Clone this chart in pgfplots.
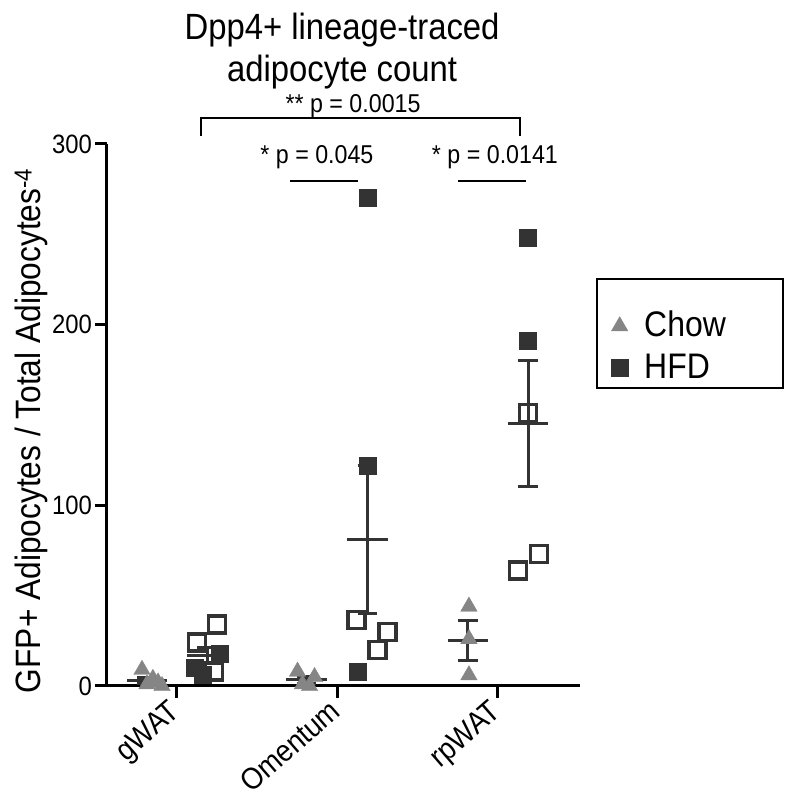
\documentclass[border=0pt]{standalone}
\usepackage{pgfplots}
\pgfplotsset{compat=1.18}
\usepackage{fontspec}
\setmainfont[FakeStretch=0.9]{Liberation Sans}
\definecolor{chow}{HTML}{858585}
\definecolor{hfd}{HTML}{333333}
\begin{document}
\begin{tikzpicture}
\path[use as bounding box] (0pt,0pt) rectangle (787pt,800pt);
\begin{axis}[
  at={(107pt,114pt)}, anchor=south west,
  scale only axis, width=473pt, height=542pt,
  xmin=0.5639, xmax=3.511, ymin=0, ymax=300,
  axis lines=left,
  axis line style={-, line width=3pt, black},
  every outer x axis line/.append style={-},
  every outer y axis line/.append style={-},
  tick align=outside,
  major tick length=12pt,
  tick style={line width=3pt, black},
  xtick={1,2,3}, xticklabels={gWAT,Omentum,rpWAT},
  ytick={0,100,200,300},
  /pgf/number format/assume math mode=true,
  yticklabel style={font=\fontsize{26.5}{26.5}\selectfont, inner sep=3pt},
  xticklabel style={font=\fontsize{30.5}{30.5}\selectfont, rotate=41, anchor=north east, inner sep=1pt, xshift=-6pt, yshift=7pt},
  ylabel={GFP+ Adipocytes / Total Adipocytes\textsuperscript{-4}},
  ylabel style={font=\fontsize{35.2}{35.2}\selectfont, at={(axis description cs:-0.160,0.471)}, anchor=center},
  title={Dpp4+ lineage-traced\\adipocyte count},
  title style={font=\fontsize{36.5}{42}\selectfont, align=center, at={(axis description cs:0.497,1.160)}, anchor=center},
  clip=false,
  unbounded coords=jump,
  legend style={draw=none, fill=none, at={(rel axis cs:1.0655,0.703)}, anchor=north west,
    font=\fontsize{35.5}{35.5}\selectfont, inner sep=0pt, column sep=14pt,
    nodes={text height=26pt, text depth=6pt, inner ysep=5pt}},
  legend cell align=left,
]
% Chow points
\addplot[only marks, mark=triangle*, mark size=9.5pt, color=chow, mark options={draw=chow, fill=chow}] coordinates {
 (0.782,9) (0.850,4) (0.813,1) (0.882,2) (0.907,0)
 (1.751,8) (1.857,5) (1.782,1) (1.826,0)
 (2.819,44) (2.819,26) (2.819,6)
};
\addlegendentry{Chow}
% HFD filled
\addplot[only marks, mark=square*, mark size=8.5pt, color=hfd, mark options={draw=hfd, fill=hfd}] coordinates {
 (1.268,18) (1.112,10) (1.162,6)
 (2.187,270) (2.187,122) (2.125,8)
 (3.187,248) (3.187,191)
};
\addlegendentry{HFD}
% HFD open
\addplot[only marks, mark=square, mark size=8.5pt, color=hfd, mark options={line width=3.5pt}, forget plot] coordinates {
 (1.249,34) (1.125,24) (1.231,8)
 (2.118,36.5) (2.312,30) (2.249,20)
 (3.187,151) (3.256,73) (3.125,64)
};
% mean +- SEM
\addplot[hfd, line width=3pt, forget plot] coordinates {
 (0.688,3.2)(0.938,3.2) (0,nan)
 (0.813,1.6)(0.813,4.8) (0,nan)
 (0.751,1.6)(0.875,1.6) (0,nan)
 (0.751,4.8)(0.875,4.8) (0,nan)
 (1.062,16.7)(1.312,16.7) (0,nan)
 (1.187,12.3)(1.187,21.1) (0,nan)
 (1.125,12.3)(1.249,12.3) (0,nan)
 (1.125,21.1)(1.249,21.1) (0,nan)
 (1.682,3.5)(1.932,3.5) (0,nan)
 (1.807,1.65)(1.807,5.35) (0,nan)
 (1.745,1.65)(1.869,1.65) (0,nan)
 (1.745,5.35)(1.869,5.35) (0,nan)
 (2.062,81.1)(2.312,81.1) (0,nan)
 (2.187,39.9)(2.187,122.3) (0,nan)
 (2.125,39.9)(2.249,39.9) (0,nan)
 (2.125,122.3)(2.249,122.3) (0,nan)
 (2.688,25.3)(2.938,25.3) (0,nan)
 (2.813,14.3)(2.813,36.3) (0,nan)
 (2.751,14.3)(2.875,14.3) (0,nan)
 (2.751,36.3)(2.875,36.3) (0,nan)
 (3.062,145.4)(3.312,145.4) (0,nan)
 (3.187,110.4)(3.187,180.4) (0,nan)
 (3.125,110.4)(3.249,110.4) (0,nan)
 (3.125,180.4)(3.249,180.4)
};
% significance annotations
\node[font=\fontsize{25.8}{25.8}\selectfont] at (axis cs:2.097,321) {** p = 0.0015};
\draw[line width=2pt] (axis cs:1.150,304.4) -- (axis cs:1.150,314.3) -- (axis cs:3.137,314.3) -- (axis cs:3.137,304.4);
\node[font=\fontsize{25.8}{25.8}\selectfont] at (axis cs:1.872,292.7) {* p = 0.045};
\draw[line width=2pt] (axis cs:1.704,279.5) -- (axis cs:2.128,279.5);
\node[font=\fontsize{25.8}{25.8}\selectfont] at (axis cs:2.981,292.7) {* p = 0.0141};
\draw[line width=2pt] (axis cs:2.751,279.5) -- (axis cs:3.174,279.5);
% legend frame
\draw[line width=1.5pt] (rel axis cs:1.036,0.751) rectangle (rel axis cs:1.429,0.550);
\end{axis}
\end{tikzpicture}
\end{document}
